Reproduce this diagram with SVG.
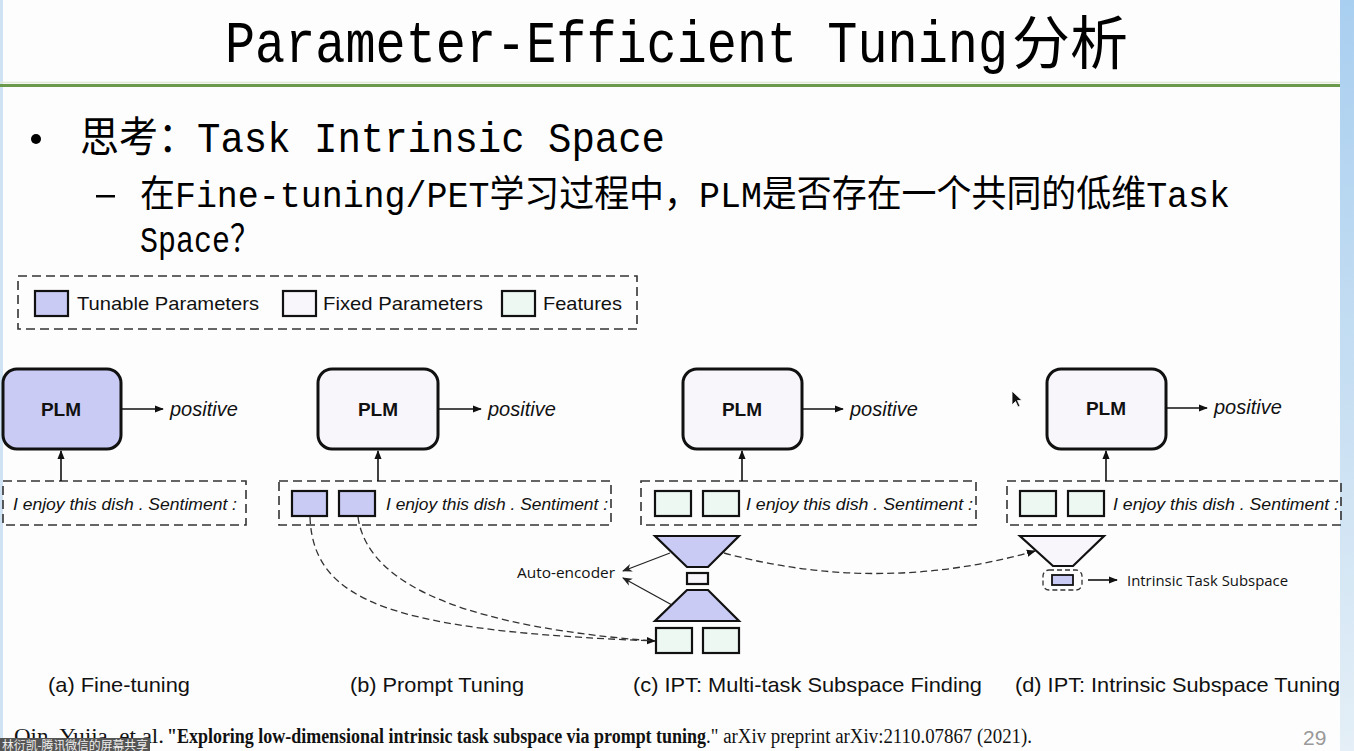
<svg xmlns="http://www.w3.org/2000/svg" width="1354" height="751" viewBox="0 0 1354 751">
<defs>
<linearGradient id="side" x1="0" y1="0" x2="0" y2="1">
<stop offset="0" stop-color="#a9cff0"/>
<stop offset="0.5" stop-color="#c6def2"/>
<stop offset="1" stop-color="#e4eff7"/>
</linearGradient>
<marker id="ah" viewBox="0 0 10 10" refX="9" refY="5" markerWidth="9" markerHeight="9" markerUnits="userSpaceOnUse" orient="auto">
<path d="M0,1 L10,5 L0,9 Z" fill="#111"/>
</marker>
<marker id="ahs" viewBox="0 0 10 10" refX="9" refY="5" markerWidth="10" markerHeight="10" markerUnits="userSpaceOnUse" orient="auto">
<path d="M0,1 L10,5 L0,9 L3,5 Z" fill="#222"/>
</marker>
</defs>
<style>
.slide{font-family:"Liberation Mono","Noto Sans CJK SC",monospace;fill:#000}
.cjk{font-family:"Noto Sans CJK SC",sans-serif;fill:#000}
.sans{font-family:"Liberation Sans",Arial,sans-serif;fill:#111}
.cal{font-family:"Open Sans","Liberation Sans",sans-serif;fill:#111}
.it{font-family:"Liberation Sans",Arial,sans-serif;font-style:italic;fill:#111}
.plm{font-family:"Liberation Sans",Arial,sans-serif;font-weight:bold;font-size:19px;fill:#111;text-anchor:middle}
.dash{fill:none;stroke:#333;stroke-width:1.6;stroke-dasharray:9 5}
.tun{fill:#c9cbf4;stroke:#111;stroke-width:2.2}
.fix{fill:#f8f6fb;stroke:#111;stroke-width:2.2}
.fea{fill:#eef8f3;stroke:#111;stroke-width:2.2}
.box{stroke:#111;stroke-width:3}
.ln{fill:none;stroke:#111;stroke-width:1.6}
.dl{fill:none;stroke:#333;stroke-width:1.3;stroke-dasharray:7 4}
.cap{font-family:"Liberation Sans",Arial,sans-serif;font-size:21px;fill:#111}
.cite{font-family:"Liberation Serif","Times New Roman",serif;font-size:20px;fill:#111}
</style>
<rect x="0" y="0" width="1354" height="751" fill="#fdfdfd"/>
<rect x="1340" y="0" width="14" height="751" fill="url(#side)"/>
<rect x="0" y="0" width="3" height="751" fill="#cfe3f4"/>

<g id="title">
<text class="slide" x="225" y="62" font-size="60" textLength="783" lengthAdjust="spacingAndGlyphs">Parameter-Efficient Tuning</text>
<text class="cjk" x="1012" y="64" font-size="58">分析</text>
<line x1="0" y1="82.5" x2="1340" y2="82.5" stroke="#dfe9d6" stroke-width="1.5"/>
<line x1="0" y1="85.5" x2="1340" y2="85.5" stroke="#6b9a4b" stroke-width="3"/>
</g>

<g id="bullets">
<circle cx="36" cy="139" r="5" fill="#000"/>
<text class="slide" x="80" y="152" font-size="42" textLength="585" lengthAdjust="spacingAndGlyphs">思考：Task Intrinsic Space</text>
<rect x="96" y="195" width="19" height="2.5" fill="#000"/>
<text class="slide" x="140" y="207" font-size="37" textLength="1090" lengthAdjust="spacingAndGlyphs">在Fine-tuning/PET学习过程中，PLM是否存在一个共同的低维Task</text>
<text class="slide" x="140" y="252" font-size="37" textLength="120" lengthAdjust="spacingAndGlyphs">Space？</text>
</g>

<g id="legend">
<rect class="dash" x="18" y="276" width="619" height="53"/>
<rect class="tun" x="35" y="291" width="33" height="25"/>
<text class="sans" x="77" y="310" font-size="19" textLength="182" lengthAdjust="spacingAndGlyphs">Tunable Parameters</text>
<rect class="fix" x="283" y="291" width="33" height="25"/>
<text class="sans" x="323" y="310" font-size="19" textLength="160" lengthAdjust="spacingAndGlyphs">Fixed Parameters</text>
<rect class="fea" x="502" y="291" width="33" height="25"/>
<text class="sans" x="543" y="310" font-size="19" textLength="79" lengthAdjust="spacingAndGlyphs">Features</text>
</g>

<g id="panel-a">
<rect class="box" x="3" y="369" width="118" height="80" rx="14" fill="#c9cbf4"/>
<text class="plm" x="61" y="416">PLM</text>
<text class="it" x="170" y="416" font-size="20">positive</text>
<rect class="dash" x="3" y="481" width="243" height="44"/>
<text class="it" x="13" y="510" font-size="17" textLength="224" lengthAdjust="spacingAndGlyphs">I enjoy this dish . Sentiment :</text>
</g>

<g id="panel-b">
<rect class="box" x="318" y="369" width="120" height="80" rx="14" fill="#f8f6fb"/>
<text class="plm" x="378" y="416">PLM</text>
<text class="it" x="488" y="416" font-size="20">positive</text>
<rect class="dash" x="279" y="481" width="332" height="44"/>
<rect class="tun" x="292" y="491" width="35" height="25"/>
<rect class="tun" x="339" y="491" width="36" height="25"/>
<text class="it" x="386" y="510" font-size="17" textLength="222" lengthAdjust="spacingAndGlyphs">I enjoy this dish . Sentiment :</text>
</g>

<g id="panel-c">
<rect class="box" x="683" y="369" width="119" height="80" rx="14" fill="#f8f6fb"/>
<text class="plm" x="742" y="416">PLM</text>
<text class="it" x="850" y="416" font-size="20">positive</text>
<rect class="dash" x="641" y="481" width="335" height="44"/>
<rect class="fea" x="655" y="491" width="36" height="25"/>
<rect class="fea" x="703" y="491" width="36" height="25"/>
<text class="it" x="746" y="510" font-size="17" textLength="227" lengthAdjust="spacingAndGlyphs">I enjoy this dish . Sentiment :</text>
<polygon points="655,536 739,536 708,567 687,567" fill="#c9cbf4" stroke="#111" stroke-width="2.2"/>
<rect class="fix" x="687" y="573" width="21" height="11"/>
<polygon points="687,590 708,590 739,621 655,621" fill="#c9cbf4" stroke="#111" stroke-width="2.2"/>
<rect class="fea" x="656" y="628" width="36" height="25"/>
<rect class="fea" x="703" y="628" width="36" height="25"/>
<text class="cal" x="517" y="578" font-size="14.5" textLength="98" lengthAdjust="spacingAndGlyphs">Auto-encoder</text>
</g>

<g id="panel-d">
<rect class="box" x="1047" y="369" width="119" height="80" rx="14" fill="#f8f6fb"/>
<text class="plm" x="1106" y="415">PLM</text>
<text class="it" x="1214" y="414" font-size="20">positive</text>
<rect class="dash" x="1007" y="481" width="334" height="44"/>
<rect class="fea" x="1020" y="491" width="36" height="25"/>
<rect class="fea" x="1068" y="491" width="36" height="25"/>
<text class="it" x="1113" y="510" font-size="17" textLength="226" lengthAdjust="spacingAndGlyphs">I enjoy this dish . Sentiment :</text>
<polygon points="1020,536 1104,536 1073,566 1053,566" fill="#f8f6fb" stroke="#111" stroke-width="2.2"/>
<rect x="1043" y="570" width="39" height="20" rx="6" fill="none" stroke="#333" stroke-width="1.3" stroke-dasharray="5 3"/>
<rect x="1052" y="575" width="21" height="10" fill="#c9cbf4" stroke="#111" stroke-width="1.8"/>
<text class="cal" x="1127" y="586" font-size="14.5" textLength="161" lengthAdjust="spacingAndGlyphs">Intrinsic Task Subspace</text>
</g>

<g id="connectors">
<line class="ln" x1="121" y1="409" x2="163" y2="409" marker-end="url(#ah)"/>
<line class="ln" x1="61" y1="481" x2="61" y2="451" marker-end="url(#ah)"/>
<line class="ln" x1="438" y1="409" x2="481" y2="409" marker-end="url(#ah)"/>
<line class="ln" x1="378" y1="481" x2="378" y2="451" marker-end="url(#ah)"/>
<line class="ln" x1="802" y1="409" x2="843" y2="409" marker-end="url(#ah)"/>
<line class="ln" x1="742" y1="481" x2="742" y2="451" marker-end="url(#ah)"/>
<line class="ln" x1="1166" y1="408" x2="1207" y2="408" marker-end="url(#ah)"/>
<line class="ln" x1="1106" y1="481" x2="1106" y2="451" marker-end="url(#ah)"/>
<path class="dl" d="M310,517 C313,603 395,631 655,641" marker-end="url(#ah)"/>
<path class="dl" d="M358,517 C368,590 480,628 655,641"/>
<line x1="670" y1="553" x2="623" y2="571" stroke="#222" stroke-width="1.2" marker-end="url(#ahs)"/>
<line x1="672" y1="605" x2="623" y2="578" stroke="#222" stroke-width="1.2" marker-end="url(#ahs)"/>
<path class="dl" d="M724,553 Q880,595 1035,551" marker-end="url(#ah)"/>
<line class="ln" x1="1088" y1="580" x2="1117" y2="580" stroke-width="1.3" marker-end="url(#ah)"/>
</g>

<g id="captions">
<text class="cap" x="48" y="692" textLength="142" lengthAdjust="spacingAndGlyphs">(a) Fine-tuning</text>
<text class="cap" x="350" y="692" textLength="174" lengthAdjust="spacingAndGlyphs">(b) Prompt Tuning</text>
<text class="cap" x="633" y="692" textLength="349" lengthAdjust="spacingAndGlyphs">(c) IPT: Multi-task Subspace Finding</text>
<text class="cap" x="1015" y="692" textLength="325" lengthAdjust="spacingAndGlyphs">(d) IPT: Intrinsic Subspace Tuning</text>
</g>

<g id="footer">
<text class="cite" x="14" y="743" textLength="150" lengthAdjust="spacingAndGlyphs">Qin, Yujia, et al.</text>
<text class="cite" x="167" y="743" font-weight="bold" textLength="539" lengthAdjust="spacingAndGlyphs">"Exploring low-dimensional intrinsic task subspace via prompt tuning</text>
<text class="cite" x="706" y="743" textLength="326" lengthAdjust="spacingAndGlyphs">." arXiv preprint arXiv:2110.07867 (2021).</text>
<text x="1303" y="745" font-family="Liberation Sans,Arial,sans-serif" font-size="21" fill="#999">29</text>
<rect x="0" y="738" width="150" height="13" fill="#555"/>
<text x="2" y="749.5" font-family="Noto Sans CJK SC,sans-serif" font-size="12" fill="#eee" textLength="146" lengthAdjust="spacingAndGlyphs">林衍凯-腾讯微信的屏幕共享</text>
</g>

<g id="cursor">
<path d="M1012,391 L1012,405 L1015.5,401.5 L1018,407 L1020,406 L1017.5,400.5 L1022,400.5 Z" fill="#111" stroke="#fff" stroke-width="0.8"/>
</g>
</svg>
